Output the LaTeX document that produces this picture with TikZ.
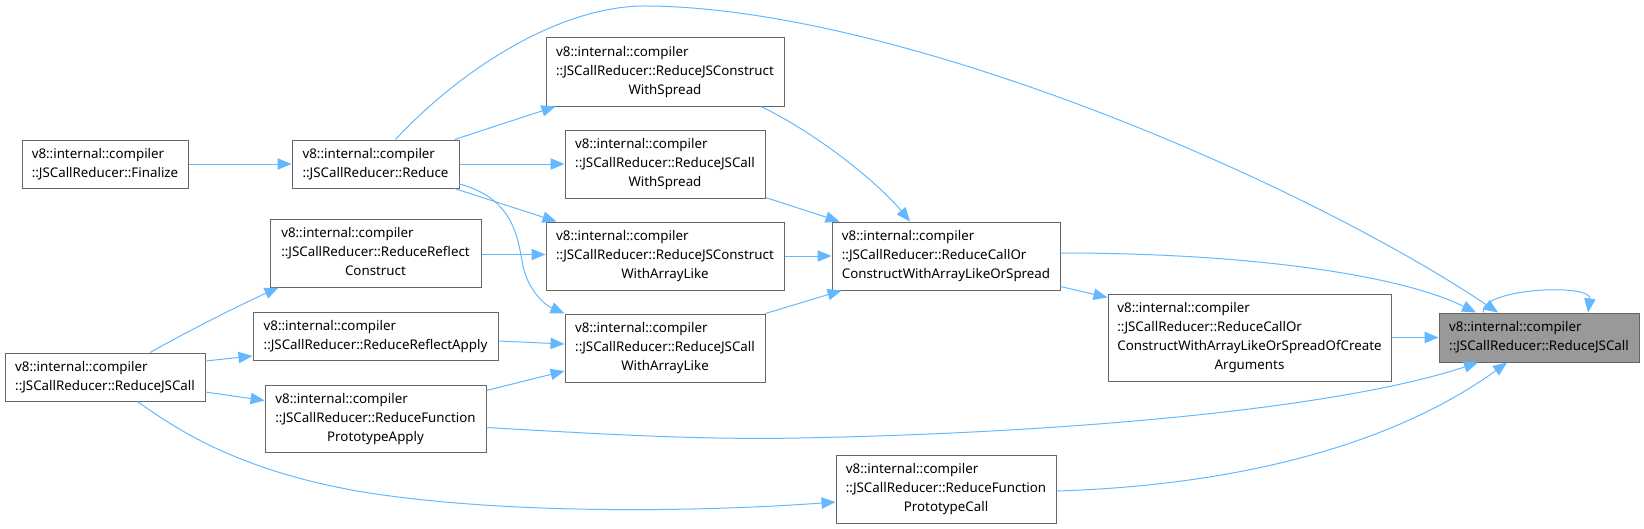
\documentclass[tikz,border=0pt]{standalone}
\usepackage{fontspec}
\setmainfont{Noto Sans}
\usetikzlibrary{arrows.meta}
\definecolor{edgeblue}{HTML}{63B8FF}
\definecolor{bordgray}{HTML}{666666}
\definecolor{rootfill}{HTML}{999999}
\newcommand\lblii[2]{\begin{tabular}{@{}l@{}}#1\\\multicolumn{1}{@{}c@{}}{#2}\end{tabular}}
\newcommand\lbliii[3]{\begin{tabular}{@{}l@{}}#1\\#2\\\multicolumn{1}{@{}c@{}}{#3}\end{tabular}}
\newcommand\lbliv[4]{\begin{tabular}{@{}l@{}}#1\\#2\\#3\\\multicolumn{1}{@{}c@{}}{#4}\end{tabular}}
\newcommand\vii{v8::internal::compiler}
\tikzset{
  fnbox/.style 2 args={draw=bordgray, line width=0.75pt, fill=white, inner sep=0pt,
    minimum width=#1*0.75pt, minimum height=#2*0.75pt, font=\fontsize{10}{14.25}\selectfont},
  rootbox/.style 2 args={fnbox={#1}{#2}, fill=rootfill},
  conn/.style={draw=edgeblue, line width=0.75pt, -{Triangle[length=10.5pt,width=8.5pt]}},
}
\begin{document}
\begin{tikzpicture}[x=0.75pt,y=-0.75pt]
\useasboundingbox (0,0) rectangle (1644,528);
% nodes
\node[fnbox={166}{48}] (fin) at (105,164) {\lblii{\vii}{::JSCallReducer::Finalize}};
\node[fnbox={167}{48}] (red) at (375.5,164) {\lblii{\vii}{::JSCallReducer::Reduce}};
\node[fnbox={238}{68}] (rcs) at (665,72) {\lbliii{\vii}{::JSCallReducer::ReduceJSConstruct}{WithSpread}};
\node[fnbox={200}{68}] (rcws) at (665,164) {\lbliii{\vii}{::JSCallReducer::ReduceJSCall}{WithSpread}};
\node[fnbox={238}{68}] (rca) at (665,256) {\lbliii{\vii}{::JSCallReducer::ReduceJSConstruct}{WithArrayLike}};
\node[fnbox={228}{68}] (rco) at (946,256) {\lbliii{\vii}{::JSCallReducer::ReduceCallOr}{ConstructWithArrayLikeOrSpread}};
\node[fnbox={211}{68}] (rrc) at (375.5,253) {\lbliii{\vii}{::JSCallReducer::ReduceReflect}{Construct}};
\node[fnbox={245}{48}] (rra) at (375.5,336) {\lblii{\vii}{::JSCallReducer::ReduceReflectApply}};
\node[fnbox={200}{68}] (rcwa) at (665,348) {\lbliii{\vii}{::JSCallReducer::ReduceJSCall}{WithArrayLike}};
\node[fnbox={200}{48}] (lft) at (105,377) {\lblii{\vii}{::JSCallReducer::ReduceJSCall}};
\node[fnbox={221}{67}] (rfpa) at (375.5,418.5) {\lbliii{\vii}{::JSCallReducer::ReduceFunction}{PrototypeApply}};
\node[fnbox={220}{68}] (rfpc) at (946,489) {\lbliii{\vii}{::JSCallReducer::ReduceFunction}{PrototypeCall}};
\node[fnbox={283}{87}] (rcoc) at (1249.5,337.5) {\lbliv{\vii}{::JSCallReducer::ReduceCallOr}{ConstructWithArrayLikeOrSpreadOfCreate}{Arguments}};
\node[rootbox={200}{49}] (tgt) at (1539,337.5) {\lblii{\vii}{::JSCallReducer::ReduceJSCall}};
% edges
\draw[conn] (fin.east) -- (red.west);
\draw[conn] ([shift={(-5,0)}]red.north east) -- ([shift={(10,0)}]rcs.south west);
\draw[conn] (red.east) -- (rcws.west);
\draw[conn] ([shift={(-5,0)}]red.south east) -- ([shift={(11,0)}]rca.north west);
\draw[conn] ([shift={(0,20)}]red.east) .. controls (520,200) and (518,248) .. (524,270) .. controls (530,292) and (545,305) .. (rcwa.north west);
\draw[conn] ([shift={(20,0)}]red.north) .. controls (460,70) and (560,5) .. (647,6) .. controls (900,8) and (1300,180) .. ([shift={(-41,0)}]tgt.north);
\draw[conn] ([shift={(96,0)}]rcs.south) .. controls (820,135) and (880,185) .. ([shift={(-36,0)}]rco.north);
\draw[conn] ([shift={(0,-1)}]rcws.south east) -- ([shift={(8,0)}]rco.north west);
\draw[conn] (rca.east) -- (rco.west);
\draw[conn] (rcwa.north east) -- ([shift={(10,0)}]rco.south west);
\draw[conn] ([shift={(0,-4)}]rco.south east) -- ([shift={(0,4)}]rcoc.north west);
\draw[conn] ([shift={(0,-3)}]rco.east) .. controls (1250,253) and (1400,275) .. ([shift={(-63,0)}]tgt.north);
\draw[conn] (rcoc.east) -- (tgt.west);
\draw[conn] ([shift={(-56,0)}]tgt.north) .. controls (1480,288) and (1592,283) .. ([shift={(49,0)}]tgt.north);
\draw[conn] ([shift={(0,1.5)}]rrc.east) -- ([shift={(0,-1.5)}]rca.west);
\draw[conn] ([shift={(0,5)}]rra.east) -- ([shift={(0,-4)}]rcwa.west);
\draw[conn] ([shift={(0,6)}]rfpa.north east) -- ([shift={(0,23)}]rcwa.west);
\draw[conn] ([shift={(0,9)}]rfpa.east) .. controls (600,434) and (700,440) .. (800,438) .. controls (1100,432) and (1350,405) .. ([shift={(-61,0)}]tgt.south);
\draw[conn] ([shift={(0,2)}]rfpc.east) .. controls (1250,485) and (1400,440) .. ([shift={(-32,0)}]tgt.south);
\draw[conn] ([shift={(45,0)}]lft.north) .. controls (190,330) and (240,305) .. ([shift={(9,0)}]rrc.south west);
\draw[conn] ([shift={(0,-16)}]lft.east) -- ([shift={(0,20)}]rra.west);
\draw[conn] ([shift={(0,15)}]lft.east) -- ([shift={(0,-18)}]rfpa.west);
\draw[conn] ([shift={(32.5,0)}]lft.south) .. controls (180,432) and (240,470) .. (357,491) .. controls (500,515) and (700,512) .. ([shift={(0,13)}]rfpc.west);
\end{tikzpicture}
\end{document}
